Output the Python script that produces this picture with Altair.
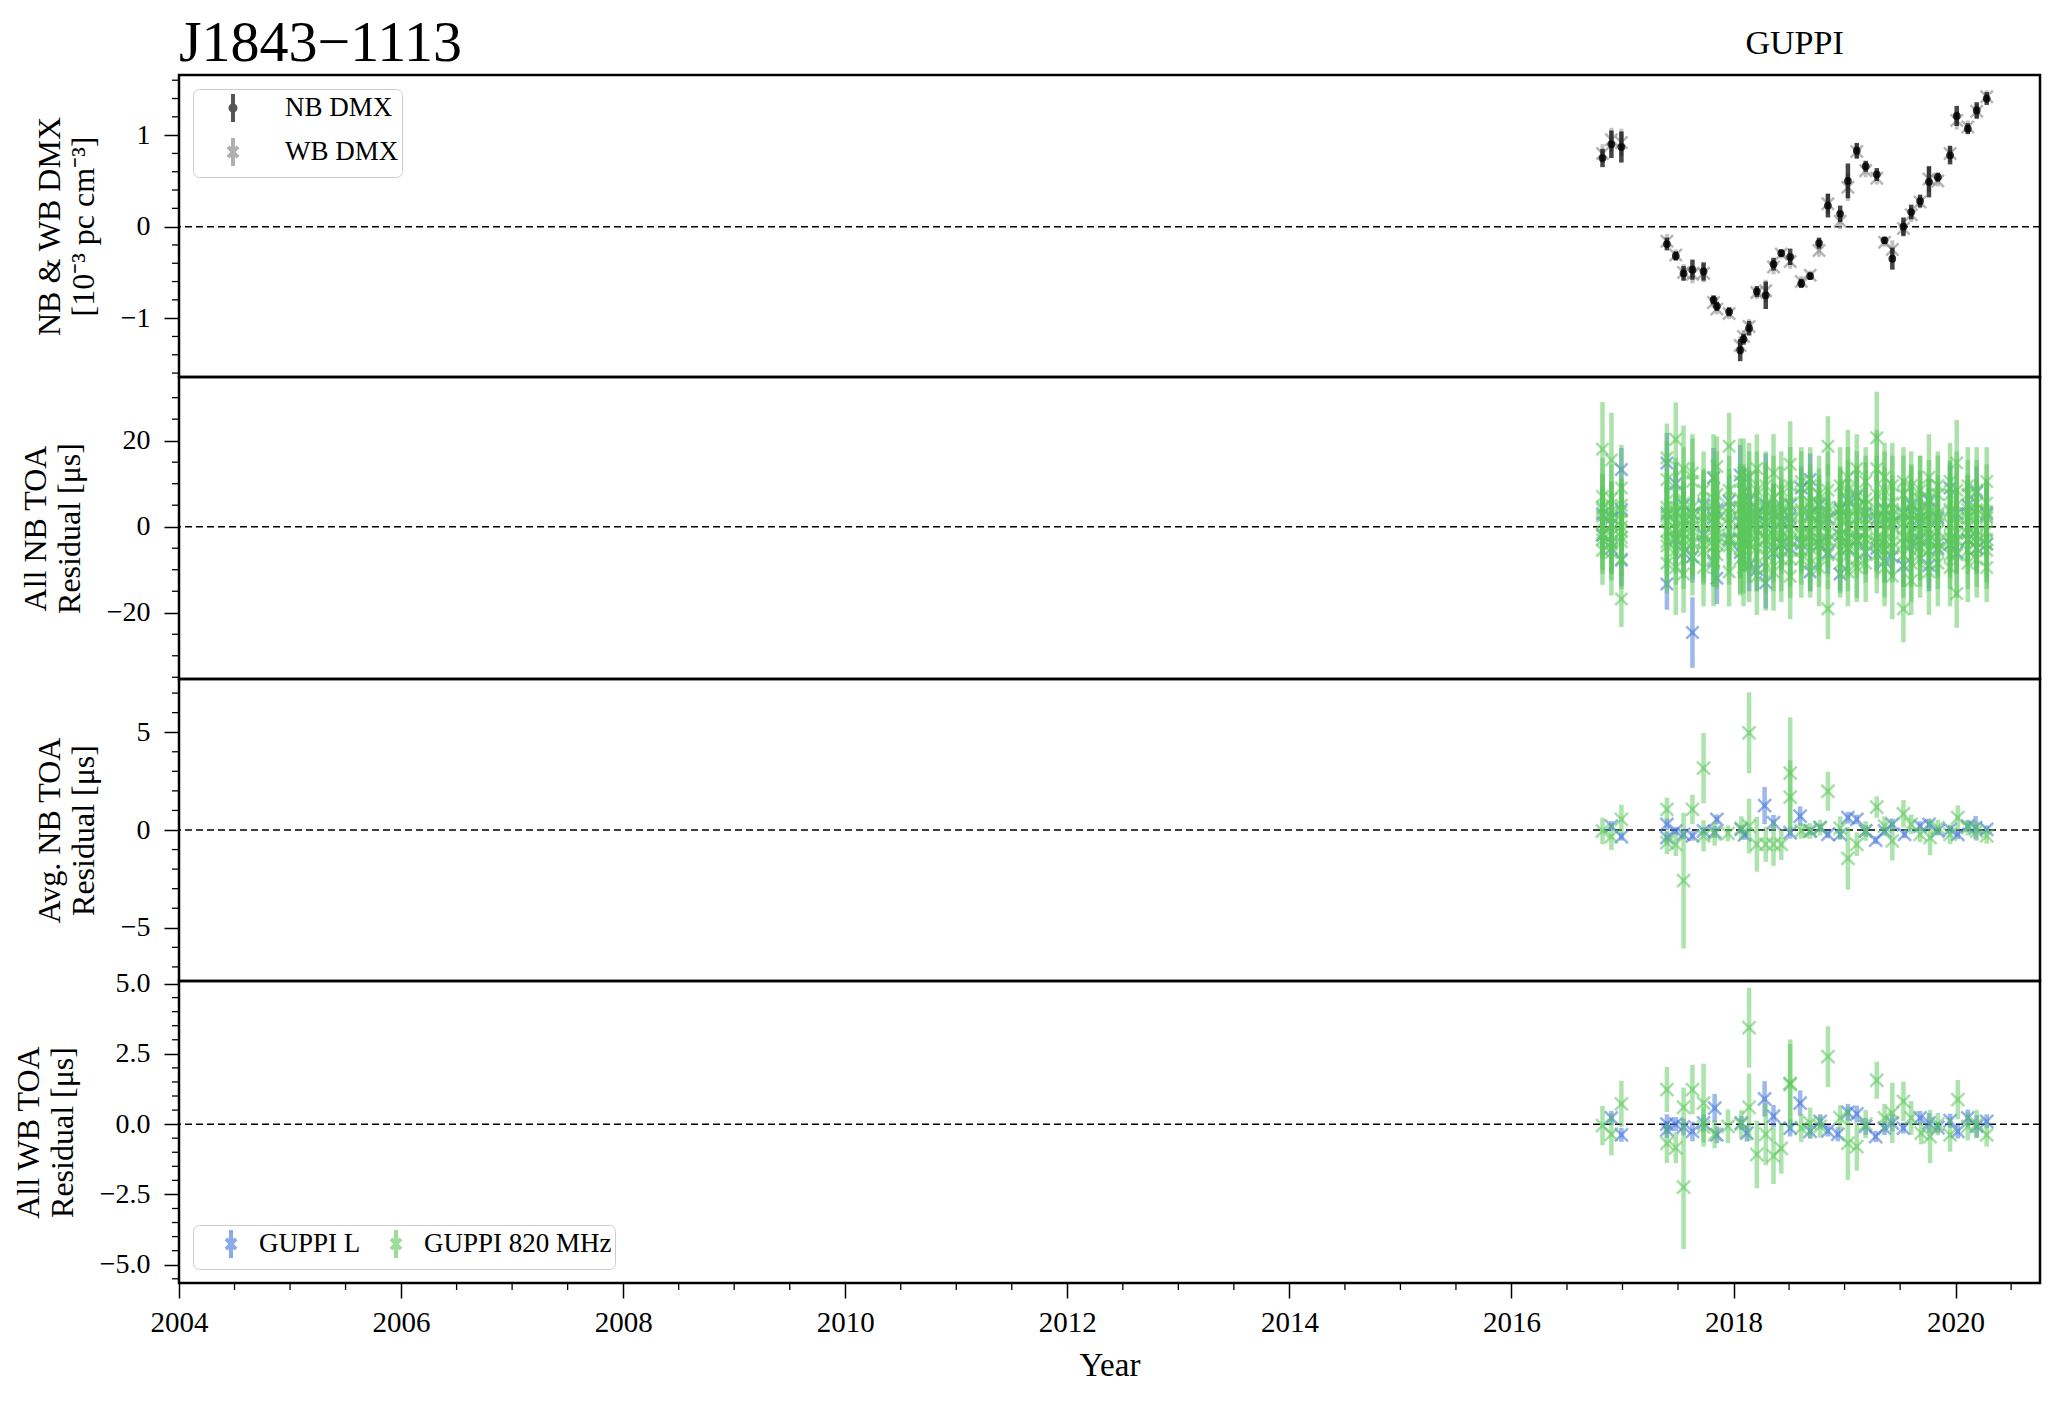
import altair as alt
import pandas as pd

SERIF = "Liberation Serif"
PSR_NAME = "J1843\u22121113"
BACKEND = "GUPPI"

# ---------------- x axis ----------------
X_DOMAIN = [2004.0, 2020.76]
X_TICKS = [2004, 2006, 2008, 2010, 2012, 2014, 2016, 2018, 2020]
X_MINOR = [2004.5, 2005.0, 2005.5, 2006.5, 2007.0, 2007.5, 2008.5, 2009.0, 2009.5,
           2010.5, 2011.0, 2011.5, 2012.5, 2013.0, 2013.5, 2014.5, 2015.0, 2015.5,
           2016.5, 2017.0, 2017.5, 2018.5, 2019.0, 2019.5, 2020.5]

# ---------------- panel 1 : DMX ----------------
DMX_YEAR = [2016.82, 2016.90, 2016.99, 2017.40, 2017.48, 2017.55, 2017.63, 2017.73, 2017.82, 2017.85,
            2017.96, 2018.06, 2018.09, 2018.14, 2018.21, 2018.29, 2018.36, 2018.43, 2018.51, 2018.61,
            2018.69, 2018.77, 2018.85, 2018.96, 2019.03, 2019.11, 2019.19, 2019.29, 2019.36, 2019.43,
            2019.53, 2019.60, 2019.68, 2019.76, 2019.84, 2019.95, 2020.01, 2020.11, 2020.19, 2020.28]
NB_DMX = [0.75, 0.90, 0.87, -0.19, -0.32, -0.51, -0.47, -0.49, -0.80, -0.87,
          -0.93, -1.35, -1.23, -1.11, -0.71, -0.75, -0.41, -0.29, -0.33, -0.62,
          -0.54, -0.18, 0.23, 0.14, 0.50, 0.83, 0.66, 0.57, -0.15, -0.35,
          0.00, 0.16, 0.28, 0.49, 0.54, 0.78, 1.21, 1.07, 1.27, 1.40]
NB_DMX_ERR = [0.10, 0.15, 0.17, 0.07, 0.05, 0.08, 0.11, 0.10, 0.05, 0.05,
              0.05, 0.12, 0.06, 0.08, 0.06, 0.15, 0.07, 0.04, 0.09, 0.05,
              0.04, 0.06, 0.13, 0.09, 0.19, 0.085, 0.06, 0.07, 0.04, 0.12,
              0.10, 0.08, 0.07, 0.17, 0.05, 0.10, 0.11, 0.06, 0.09, 0.07]
WB_DMX = [0.80, 0.95, 0.92, -0.16, -0.31, -0.50, -0.52, -0.51, -0.83, -0.90,
          -0.95, -1.30, -1.20, -1.09, -0.72, -0.70, -0.44, -0.30, -0.38, -0.60,
          -0.53, -0.26, 0.25, 0.06, 0.43, 0.82, 0.61, 0.53, -0.17, -0.25,
          -0.02, 0.13, 0.27, 0.52, 0.50, 0.80, 1.16, 1.09, 1.26, 1.42]
WB_DMX_ERR = [0.10, 0.13, 0.15, 0.08, 0.06, 0.09, 0.10, 0.10, 0.06, 0.06,
              0.06, 0.10, 0.07, 0.08, 0.07, 0.12, 0.08, 0.05, 0.08, 0.06,
              0.05, 0.07, 0.11, 0.09, 0.15, 0.08, 0.07, 0.07, 0.05, 0.10,
              0.09, 0.08, 0.07, 0.14, 0.06, 0.09, 0.10, 0.07, 0.08, 0.07]

# ---------------- panel 2 : all NB TOAs (per epoch) ----------------
NB820_RES = [
    [18.0, 4.5, -2.0, 1.0, -5.5, 7.0], [15.5, -3.5, 2.5, -6.0, 0.5, 6.5], [-16.8, 9.0, -2.5, 3.5, -7.5, 0.0],
    [11.0, -3.5, 4.5, -8.5, 1.5, 16.0], [20.3, -5.5, 3.5, -2.0, 8.0, -9.5], [5.5, -11.0, 2.0, -4.5, 13.5, 0.0],
    [10.5, -7.0, 3.0, -4.0, 12.5, -1.0], [-3.0, 5.5, 8.5, -9.5, 2.0, -5.5], [11.5, -4.5, 3.5, -8.5, 1.0, 6.5],
    [-2.0, 7.5, -6.5, 3.0, 14.0, -4.0], [18.7, -10.5, 4.5, -3.5, 2.0, 8.5], [4.0, -7.5, 10.5, -3.0, 6.5, -5.0],
    [-5.5, 12.5, 2.0, -9.5, 4.5, -2.0], [6.5, -8.5, 3.0, 11.5, -4.0, 0.0], [-5.0, 8.5, 2.0, -11.5, 13.5, -1.0],
    [4.0, -6.5, 9.5, -3.0, 5.5, -9.5], [12.5, -5.0, 2.0, -10.5, 6.5, -2.0], [-7.5, 5.0, -1.0, 8.5, -4.0, 3.0],
    [14.5, -7.5, 5.5, -3.0, 9.5, -11.5], [4.0, -5.5, 7.5, -2.0, 10.5, -7.5], [-3.0, 5.5, -8.5, 2.0, 9.5, -5.0],
    [7.5, -4.0, 3.0, -9.5, 5.5, 1.0], [18.7, -19.1, 4.5, -3.0, 8.5, -6.5], [-5.5, 9.5, 3.0, -8.5, 4.5, -2.0],
    [11.5, -5.0, 6.5, -10.5, 2.0, 8.5], [-7.5, 4.0, 13.5, -3.0, 7.5, -9.5], [5.0, -8.5, 2.0, 10.5, -4.0, 6.5],
    [20.7, -6.5, 3.0, 13.5, -4.0, 7.5], [-3.0, 8.5, -9.5, 4.0, 11.5, -5.5], [5.5, -11.5, 3.0, -5.0, 9.5, 0.0],
    [-19.1, 7.5, -4.0, 2.0, 10.5, -6.5], [4.0, -8.5, 9.5, -3.0, 5.5, -12.5], [-5.0, 6.5, 1.0, -7.5, 3.0, 8.5],
    [11.5, -5.5, 3.0, -10.5, 6.5, -2.0], [-4.0, 7.5, -8.5, 3.0, 9.5, -5.5], [10.5, -6.5, 4.0, -3.0, 7.5, -9.5],
    [14.8, -15.5, 5.0, -3.0, 8.5, -6.5], [-5.5, 7.5, 2.0, -8.5, 4.0, 9.5], [8.5, -5.0, 3.0, -7.5, 5.5, -2.0],
    [-9.5, 5.5, -3.0, 10.5, 2.0, -5.5]]
NB820_ERR = [
    [11, 8, 9, 7, 8, 9], [11, 9, 8, 10, 7, 8], [6.5, 10, 9, 8, 7, 9],
    [9, 10, 8, 7, 9, 8], [8.6, 8, 10, 9, 8, 11], [13, 9, 11, 10, 10, 9],
    [10, 9, 12, 8, 9, 10], [10, 8, 9, 9, 11, 8], [10, 9, 8, 10, 7, 9],
    [9, 10, 8, 9, 7, 10], [7.8, 8, 9, 10, 9, 8], [9, 8, 10, 9, 8, 11],
    [10, 8, 11, 9, 10, 8], [11, 9, 10, 8, 9, 10], [10, 9, 11, 9, 8, 10],
    [11, 9, 8, 10, 9, 10], [9, 10, 8, 9, 10, 11], [10, 9, 8, 9, 11, 8],
    [10, 9, 8, 11, 9, 10], [9, 8, 10, 9, 8, 9], [10, 9, 8, 11, 9, 10],
    [9, 10, 8, 9, 8, 11], [7, 7, 10, 9, 9, 8], [10, 9, 11, 8, 9, 10],
    [11, 10, 9, 8, 9, 10], [9, 10, 8, 9, 10, 8], [10, 9, 11, 8, 9, 10],
    [10.7, 9, 10, 9, 8, 9], [10, 9, 9, 10, 8, 11], [11, 10, 9, 8, 10, 9],
    [7.8, 9, 10, 9, 8, 10], [10, 9, 8, 11, 9, 8], [9, 10, 8, 9, 10, 8],
    [10, 9, 8, 10, 9, 11], [8, 9, 10, 9, 8, 9], [9, 8, 10, 9, 8, 9],
    [10, 8, 9, 8, 9, 10], [9, 8, 10, 9, 8, 9], [10, 9, 8, 9, 10, 8],
    [8, 9, 10, 8, 9, 9]]
# more 820 MHz TOAs in the dense core of each epoch
NB820_CORE_RES = [
    [2.5, -1.5, 4.0, -3.0], [-2.0, 3.5, 0.5, -4.0], [1.5, -3.5, 5.0, -1.0], [-1.0, 2.5, -4.5, 3.5],
    [1.0, -2.5, 4.5, -0.5], [-3.0, 1.5, 3.5, -1.5], [2.0, -3.5, 0.0, 4.5], [-1.5, 3.0, -4.0, 1.0],
    [0.5, -2.0, 4.0, -4.5], [3.5, -1.0, 1.5, -3.0], [-2.5, 0.5, 3.0, -4.5], [1.5, -3.0, 4.5, -1.0],
    [-0.5, 3.5, -3.5, 1.0], [2.5, -1.5, -4.0, 4.0], [-3.5, 1.0, 3.5, -0.5], [0.0, 2.5, -2.5, 4.5],
    [3.0, -1.0, -3.5, 1.5], [-2.0, 1.5, 4.0, -4.0], [1.0, -3.5, 2.5, -0.5], [-1.5, 3.5, 0.5, -3.5],
    [2.5, -2.0, 4.5, -1.0], [-3.0, 0.5, 2.0, -4.5], [1.5, -1.5, 3.5, -3.5], [-0.5, 2.5, -3.0, 4.0],
    [3.0, -2.5, 0.0, -4.0], [-1.0, 2.0, -3.5, 4.5], [0.5, -3.0, 3.5, -1.5], [-2.5, 1.5, 4.0, -3.5],
    [2.0, -1.0, -4.0, 1.0], [-3.5, 2.5, 0.5, 4.0], [1.0, -2.5, 3.5, -0.5], [-1.5, 3.0, -3.5, 1.5],
    [3.5, -2.0, 0.5, -4.5], [-0.5, 2.0, -3.0, 4.0], [1.5, -3.5, 2.5, -1.0], [-2.5, 0.5, 3.5, -4.0],
    [2.0, -1.5, -3.5, 1.0], [-3.0, 3.0, 0.0, -1.5], [0.5, -2.5, 4.0, -3.5], [-1.0, 2.5, -4.0, 3.5]]
NB820_CORE_ERR = [
    [7, 6, 8, 7], [8, 7, 6, 7], [7, 8, 6, 7], [8, 7, 7, 6], [7, 6, 8, 7], [8, 7, 7, 6], [7, 8, 6, 7],
    [6, 7, 8, 7], [7, 6, 7, 8], [8, 7, 6, 7], [7, 8, 7, 6], [6, 7, 8, 7], [7, 6, 7, 8], [8, 7, 6, 7],
    [7, 8, 7, 6], [6, 7, 8, 7], [7, 6, 7, 8], [8, 7, 6, 7], [7, 8, 7, 6], [6, 7, 8, 7], [7, 6, 7, 8],
    [8, 7, 6, 7], [7, 8, 7, 6], [6, 7, 8, 7], [7, 6, 7, 8], [8, 7, 6, 7], [7, 8, 7, 6], [6, 7, 8, 7],
    [7, 6, 7, 8], [8, 7, 6, 7], [7, 8, 7, 6], [6, 7, 8, 7], [7, 6, 7, 8], [8, 7, 6, 7], [7, 8, 7, 6],
    [6, 7, 8, 7], [7, 6, 7, 8], [8, 7, 6, 7], [7, 8, 7, 6], [6, 7, 8, 7]]
NBL_RES = [
    [3.0, -2.0], [2.0, -5.0], [13.3, -7.8, 4.0], [14.8, -13.3, 3.0], [10.0, -3.0],
    [5.0, -6.0], [-24.6, 3.0, -7.0], [5.0, -2.0], [11.3, -8.0, 2.0], [-12.0, 4.0],
    [-3.0, 6.0], [12.0, -6.0, 1.0], [8.0, -4.0], [6.0, -9.0, 2.0], [3.0, -10.0],
    [5.0, -13.0, 1.0], [4.0, -6.0], [1.0, -4.0], [5.0, -5.0, 2.0], [9.0, -4.0],
    [-10.5, 11.0, 3.0], [-4.0, 5.0], [2.0, -6.0], [-11.0, 4.0, -2.0], [-5.0, 6.0],
    [7.0, -3.0], [-6.0, 3.0], [2.0, -5.0], [-8.0, 4.0], [1.0, -7.0],
    [-9.0, 3.0], [5.0, -4.0], [-3.0, 2.0], [6.0, -9.0], [-5.0, 2.0],
    [9.0, -4.0], [-6.0, 3.0], [5.0, -3.0], [8.0, -5.0], [3.0, -4.0]]
NBL_ERR = [
    [6, 5], [6, 6], [5, 6, 6], [7, 6, 6], [5, 6],
    [5, 6], [8.2, 6, 6], [6, 5], [7, 6, 5], [6, 6],
    [6, 6], [7, 6, 5], [6, 6], [7, 6, 6], [6, 5],
    [12, 6, 5], [6, 6], [5, 6], [6, 6, 5], [5, 6],
    [4.5, 6, 5], [6, 5], [6, 5], [4, 5, 6], [6, 5],
    [6, 5], [5, 6], [6, 5], [5, 6], [6, 5],
    [5, 6], [6, 5], [6, 5], [5, 6], [6, 5],
    [6, 5], [5, 6], [6, 5], [6, 6], [6, 5]]

# ---------------- panel 3 : averaged NB TOAs ----------------
AVG820_YEAR = [2016.82, 2016.90, 2016.99, 2017.40, 2017.40, 2017.48, 2017.55, 2017.63, 2017.73, 2017.73,
               2017.83, 2017.95, 2018.07, 2018.14, 2018.14, 2018.21, 2018.29, 2018.36, 2018.43, 2018.51,
               2018.51, 2018.61, 2018.69, 2018.78, 2018.85, 2018.96, 2019.03, 2019.11, 2019.19, 2019.29,
               2019.36, 2019.43, 2019.53, 2019.60, 2019.68, 2019.77, 2019.84, 2019.95, 2020.02, 2020.11,
               2020.19, 2020.28]
AVG820_RES = [-0.05, -0.34, 0.54, 1.05, -0.64, -0.73, -2.59, 1.05, 3.16, -0.30,
              -0.20, -0.17, 0.10, 4.97, 0.20, -0.73, -0.73, -0.73, -0.73, 2.91,
              1.68, -0.05, -0.05, 0.12, 1.98, 0.10, -1.45, -0.73, -0.05, 1.17,
              0.20, -0.56, 0.83, 0.29, -0.22, -0.39, 0.12, -0.22, 0.63, 0.12,
              -0.05, -0.30]
AVG820_ERR = [0.68, 0.68, 0.75, 0.60, 0.60, 0.60, 3.47, 0.75, 1.80, 0.80,
              0.60, 0.40, 0.60, 2.07, 1.40, 1.40, 0.90, 1.10, 0.80, 2.85,
              1.88, 0.40, 0.40, 0.40, 1.00, 0.60, 1.60, 0.60, 0.50, 0.55,
              0.50, 1.00, 0.70, 0.50, 0.40, 0.90, 0.40, 0.50, 0.63, 0.40,
              0.50, 0.40]
AVGL_YEAR = [2016.90, 2016.99, 2017.40, 2017.40, 2017.48, 2017.55, 2017.63, 2017.73, 2017.83, 2017.85,
             2018.07, 2018.10, 2018.28, 2018.36, 2018.51, 2018.60, 2018.69, 2018.78, 2018.85, 2018.96,
             2019.03, 2019.11, 2019.19, 2019.28, 2019.36, 2019.43, 2019.54, 2019.68, 2019.76, 2019.84,
             2019.95, 2020.02, 2020.11, 2020.18, 2020.28]
AVGL_RES = [0.20, -0.34, 0.29, -0.39, -0.05, -0.22, -0.30, -0.05, -0.10, 0.54,
            0.03, -0.25, 1.25, 0.37, -0.14, 0.71, -0.05, 0.12, -0.22, -0.22,
            0.63, 0.54, -0.05, -0.52, -0.05, 0.29, -0.22, 0.20, 0.29, -0.05,
            0.03, -0.22, 0.20, 0.12, 0.03]
AVGL_ERR = [0.25, 0.20, 0.30, 0.30, 0.20, 0.25, 0.25, 0.20, 0.30, 0.25,
            0.20, 0.25, 0.95, 0.40, 0.30, 0.50, 0.20, 0.20, 0.20, 0.25,
            0.30, 0.25, 0.30, 0.20, 0.20, 0.30, 0.20, 0.25, 0.30, 0.20,
            0.20, 0.25, 0.30, 0.60, 0.20]

# ---------------- panel 4 : WB TOAs ----------------
WB820_YEAR = [2016.82, 2016.90, 2016.99, 2017.40, 2017.40, 2017.48, 2017.55, 2017.55, 2017.63, 2017.73,
              2017.73, 2017.83, 2017.95, 2018.07, 2018.14, 2018.14, 2018.21, 2018.29, 2018.36, 2018.43,
              2018.51, 2018.51, 2018.61, 2018.69, 2018.78, 2018.85, 2018.96, 2019.03, 2019.11, 2019.19,
              2019.29, 2019.36, 2019.43, 2019.53, 2019.60, 2019.69, 2019.77, 2019.84, 2019.95, 2020.02,
              2020.11, 2020.19, 2020.28]
WB820_RES = [-0.05, -0.36, 0.72, 1.23, -0.68, -0.84, -2.24, 0.60, 1.23, 0.75,
             -0.10, -0.36, -0.08, 0.00, 3.43, 0.60, -1.08, -0.36, -1.13, -0.86,
             1.41, 1.45, -0.14, 0.04, -0.08, 2.40, 0.22, -0.68, -0.80, 0.00,
             1.56, 0.22, 0.40, 0.81, 0.22, -0.32, -0.44, 0.00, -0.38, 0.87,
             -0.08, 0.00, -0.38]
WB820_ERR = [0.70, 0.75, 0.82, 0.80, 0.70, 0.55, 2.20, 0.70, 0.88, 1.40,
             0.70, 0.50, 0.60, 0.50, 1.42, 1.20, 1.20, 1.10, 1.00, 0.90,
             1.60, 1.40, 0.50, 0.55, 0.40, 1.08, 0.45, 1.30, 0.85, 0.50,
             0.66, 0.50, 1.07, 0.70, 0.60, 0.40, 0.95, 0.40, 0.60, 0.70,
             0.50, 0.50, 0.42]
WBL_YEAR = [2016.90, 2016.99, 2017.40, 2017.40, 2017.48, 2017.55, 2017.63, 2017.73, 2017.83, 2017.85,
            2018.07, 2018.12, 2018.28, 2018.36, 2018.51, 2018.60, 2018.69, 2018.78, 2018.85, 2018.94,
            2019.03, 2019.11, 2019.19, 2019.28, 2019.36, 2019.43, 2019.53, 2019.68, 2019.76, 2019.84,
            2019.95, 2020.02, 2020.11, 2020.19, 2020.28]
WBL_RES = [0.22, -0.38, 0.00, -0.20, 0.00, -0.10, -0.26, 0.04, 0.57, -0.38,
           0.04, -0.32, 0.90, 0.28, -0.14, 0.75, -0.26, 0.10, -0.24, -0.36,
           0.42, 0.36, -0.08, -0.44, -0.14, 0.04, -0.14, 0.22, 0.04, -0.12,
           0.12, -0.26, 0.22, -0.08, 0.10]
WBL_ERR = [0.25, 0.25, 0.35, 0.30, 0.25, 0.30, 0.35, 0.30, 0.50, 0.30,
           0.25, 0.30, 0.63, 0.40, 0.30, 0.45, 0.25, 0.25, 0.20, 0.25,
           0.30, 0.30, 0.30, 0.20, 0.25, 0.30, 0.20, 0.25, 0.35, 0.20,
           0.25, 0.25, 0.30, 0.40, 0.25]

# ---------------- y axes ----------------
Y1_DOMAIN = [-1.643, 1.657]
Y1_TICKS = [-1, 0, 1]
Y1_MINOR = [-1.6, -1.4, -1.2, -0.8, -0.6, -0.4, -0.2, 0.2, 0.4, 0.6, 0.8, 1.2, 1.4, 1.6]
Y2_DOMAIN = [-35.4, 34.8]
Y2_TICKS = [-20, 0, 20]
Y2_MINOR = [-35, -30, -25, -15, -10, -5, 5, 10, 15, 25, 30]
Y3_DOMAIN = [-7.72, 7.72]
Y3_TICKS = [-5, 0, 5]
Y3_MINOR = [-7, -6, -4, -3, -2, -1, 1, 2, 3, 4, 6, 7]
Y4_DOMAIN = [-5.65, 5.09]
Y4_TICKS = [-5.0, -2.5, 0.0, 2.5, 5.0]
Y4_MINOR = [-5.5, -4.5, -4.0, -3.5, -3.0, -2.0, -1.5, -1.0, -0.5, 0.5, 1.0, 1.5, 2.0, 3.0, 3.5, 4.0, 4.5]

LEGEND_DMX = ["NB DMX", "WB DMX"]
LEGEND_RCVR = ["GUPPI L", "GUPPI 820 MHz"]

# ---------------- styling ----------------
W, H = 1861, 302
BLUE = "#3d72d9"
GREEN = "#5cc85c"
XPATH = "M-1,-1L1,1M-1,1L1,-1"
LEG_DOT = "M0,-1L0,1M0.18,0A0.18,0.18,0,1,1,-0.18,0A0.18,0.18,0,1,1,0.18,0"
LEG_X = "M0,-1L0,1M-0.36,-0.36L0.36,0.36M-0.36,0.36L0.36,-0.36"


def simple_df(years, vals, errs):
    return pd.DataFrame({"year": years, "val": vals,
                         "lo": [v - e for v, e in zip(vals, errs)],
                         "hi": [v + e for v, e in zip(vals, errs)]})


def nested_df(years, res_lists, err_lists):
    yy, vv, ee = [], [], []
    for yr, rl, el in zip(years, res_lists, err_lists):
        for r, e in zip(rl, el):
            yy.append(yr)
            vv.append(r)
            ee.append(e)
    return simple_df(yy, vv, ee)


def make_panel(ydom, yticks, yminor, yfmt, ytitle, data_layers, show_x, extra_layers=()):
    xs = alt.Scale(domain=X_DOMAIN, nice=False, zero=False)
    ys = alt.Scale(domain=ydom, nice=False, zero=False)
    if show_x:
        xaxis = alt.Axis(values=X_TICKS, format="d", title="Year", labelFont=SERIF, titleFont=SERIF,
                         labelFontSize=29, titleFontSize=33, labelColor="black", titleColor="black",
                         tickSize=15, tickWidth=1.5, tickColor="black", labelPadding=10, titlePadding=12,
                         labelFlush=False, labelOverlap=False, domain=False, grid=False,
                         titleFontWeight="normal")
    else:
        xaxis = None
    yaxis = alt.Axis(values=yticks, format=yfmt, title=ytitle, labelFont=SERIF, titleFont=SERIF,
                     labelFontSize=28, titleFontSize=32, labelColor="black", titleColor="black",
                     titleLineHeight=34, tickSize=15, tickWidth=1.5, tickColor="black",
                     labelPadding=14, titlePadding=20, labelFlush=False, labelOverlap=False,
                     domain=False, grid=False, titleFontWeight="normal")

    def X(f):
        return alt.X(f, type="quantitative", scale=xs, axis=xaxis)

    def Y(f):
        return alt.Y(f, type="quantitative", scale=ys, axis=yaxis)

    layers = []
    layers.append(alt.Chart(pd.DataFrame({"z": [0.0]})).mark_rule(
        color="black", strokeWidth=1.5, strokeDash=[7, 4]).encode(y=Y("z")))
    layers.append(alt.Chart(pd.DataFrame({"v": yminor})).mark_rule(
        color="black", strokeWidth=1.3).encode(y=Y("v"), x=alt.value(-7), x2=alt.value(0)))
    if show_x:
        layers.append(alt.Chart(pd.DataFrame({"v": X_MINOR})).mark_rule(
            color="black", strokeWidth=1.3).encode(x=X("v"), y=alt.value(H), y2=alt.value(H + 7)))
    for kind, df, color, opacity, size in data_layers:
        if kind == "bar":
            layers.append(alt.Chart(df).mark_rule(color=color, opacity=opacity, strokeWidth=size).encode(
                x=X("year"), y=Y("lo"), y2="hi"))
        elif kind == "x":
            layers.append(alt.Chart(df).mark_point(shape=XPATH, filled=False, color=color, opacity=opacity,
                                                   size=size, strokeWidth=2.5).encode(x=X("year"), y=Y("val")))
        elif kind == "dot":
            layers.append(alt.Chart(df).mark_circle(color=color, opacity=opacity, size=size).encode(
                x=X("year"), y=Y("val")))
    for fn in extra_layers:
        layers.append(fn(X, Y))
    return alt.layer(*layers).properties(width=W, height=H)


# ---------- data frames ----------
nb_dmx_df = simple_df(DMX_YEAR, NB_DMX, NB_DMX_ERR)
wb_dmx_df = simple_df(DMX_YEAR, WB_DMX, WB_DMX_ERR)
nb820_df = pd.concat([nested_df(DMX_YEAR, NB820_RES, NB820_ERR),
                      nested_df(DMX_YEAR, NB820_CORE_RES, NB820_CORE_ERR)], ignore_index=True)
nbl_df = nested_df(DMX_YEAR, NBL_RES, NBL_ERR)
avg820_df = simple_df(AVG820_YEAR, AVG820_RES, AVG820_ERR)
avgl_df = simple_df(AVGL_YEAR, AVGL_RES, AVGL_ERR)
wb820_df = simple_df(WB820_YEAR, WB820_RES, WB820_ERR)
wbl_df = simple_df(WBL_YEAR, WBL_RES, WBL_ERR)


# ---------- extra layers: titles and legends ----------
def psr_title(X, Y):
    return alt.Chart(pd.DataFrame({"x": [X_DOMAIN[0]], "t": [PSR_NAME]})).mark_text(
        align="left", baseline="alphabetic", fontSize=58, font=SERIF, color="black").encode(
        x=X("x"), y=alt.value(-14), text="t:N")


def backend_title(X, Y):
    mid = (min(DMX_YEAR) + max(DMX_YEAR)) / 2.0
    return alt.Chart(pd.DataFrame({"x": [mid], "t": [BACKEND]})).mark_text(
        align="center", baseline="alphabetic", fontSize=34, font=SERIF, color="black").encode(
        x=X("x"), y=alt.value(-21), text="t:N")


LEG1 = alt.Legend(title=None, orient="top-left", offset=14, padding=3, strokeColor="#cccccc",
                  cornerRadius=6, fillColor="white", labelFont=SERIF, labelFontSize=27,
                  labelColor="black", symbolSize=784, symbolStrokeWidth=4, symbolOffset=21,
                  labelOffset=36, rowPadding=0, symbolOpacity=1, labelLimit=500)


def dmx_legend(X, Y):
    df = pd.DataFrame({"year": [DMX_YEAR[0], DMX_YEAR[0]], "val": [NB_DMX[0], WB_DMX[0]],
                       "series": LEGEND_DMX})
    return alt.Chart(df).mark_point(filled=False, opacity=0).encode(
        x=X("year"), y=Y("val"),
        color=alt.Color("series:N", scale=alt.Scale(domain=LEGEND_DMX, range=["#555555", "#b0b0b0"]),
                        legend=LEG1),
        shape=alt.Shape("series:N", scale=alt.Scale(domain=LEGEND_DMX, range=[LEG_DOT, LEG_X]),
                        legend=LEG1))


LEG4 = alt.Legend(title=None, orient="bottom-left", direction="horizontal", offset=14, padding=3,
                  strokeColor="#cccccc", cornerRadius=6, fillColor="white", labelFont=SERIF,
                  labelFontSize=27, labelColor="black", symbolSize=784, symbolStrokeWidth=4,
                  symbolOffset=19, labelOffset=12, columnPadding=0, symbolOpacity=0.6, labelLimit=500)


def rcvr_legend(X, Y):
    df = pd.DataFrame({"year": [WBL_YEAR[0], WB820_YEAR[0]], "val": [WBL_RES[0], WB820_RES[0]],
                       "rcvr": LEGEND_RCVR})
    return alt.Chart(df).mark_point(filled=False, opacity=0).encode(
        x=X("year"), y=Y("val"),
        color=alt.Color("rcvr:N", scale=alt.Scale(domain=LEGEND_RCVR, range=[BLUE, GREEN]), legend=LEG4),
        shape=alt.Shape("rcvr:N", scale=alt.Scale(domain=LEGEND_RCVR, range=[LEG_X, LEG_X]), legend=LEG4))


p1 = make_panel(Y1_DOMAIN, Y1_TICKS, Y1_MINOR, "d", ["NB & WB DMX", "[10\u207b\u00b3 pc cm\u207b\u00b3]"],
                [("bar", wb_dmx_df, "#909090", 0.55, 4), ("x", wb_dmx_df, "#909090", 0.65, 150),
                 ("bar", nb_dmx_df, "black", 0.72, 4.5), ("dot", nb_dmx_df, "black", 0.8, 60)],
                False, [psr_title, backend_title, dmx_legend])
p2 = make_panel(Y2_DOMAIN, Y2_TICKS, Y2_MINOR, "d", ["All NB TOA", "Residual [\u03bcs]"],
                [("bar", nbl_df, BLUE, 0.5, 4.5), ("x", nbl_df, BLUE, 0.55, 150),
                 ("bar", nb820_df, GREEN, 0.52, 4.5), ("x", nb820_df, GREEN, 0.55, 150)],
                False)
p3 = make_panel(Y3_DOMAIN, Y3_TICKS, Y3_MINOR, "d", ["Avg. NB TOA", "Residual [\u03bcs]"],
                [("bar", avgl_df, BLUE, 0.5, 4.5), ("x", avgl_df, BLUE, 0.55, 170),
                 ("bar", avg820_df, GREEN, 0.5, 4.5), ("x", avg820_df, GREEN, 0.55, 170)],
                False)
p4 = make_panel(Y4_DOMAIN, Y4_TICKS, Y4_MINOR, ".1f", ["All WB TOA", "Residual [\u03bcs]"],
                [("bar", wbl_df, BLUE, 0.5, 4.5), ("x", wbl_df, BLUE, 0.55, 170),
                 ("bar", wb820_df, GREEN, 0.5, 4.5), ("x", wb820_df, GREEN, 0.55, 170)],
                True, [rcvr_legend])

chart = alt.vconcat(p1, p2, p3, p4, spacing=0, bounds="flush").resolve_scale(
    color="independent", shape="independent"
).properties(
    background="white", padding={"left": 2, "top": 5, "right": 5, "bottom": 5}
).configure(font=SERIF).configure_view(
    stroke="black", strokeWidth=2.5
).configure_axis(
    labelFont=SERIF, titleFont=SERIF, labelColor="black", titleColor="black", tickColor="black",
    titleFontWeight="normal", domain=False, grid=False, labelFlush=False, labelOverlap=False
).configure_legend(labelFont=SERIF)

chart.save("out.html", embed_options={"renderer": "svg", "actions": False})
